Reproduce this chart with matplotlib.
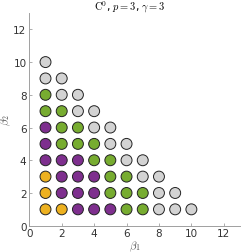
import matplotlib
matplotlib.use("Agg")
import matplotlib.pyplot as plt

plt.rcParams['mathtext.fontset'] = 'cm'

# data: (beta1, beta2) grid points with category labels per row (beta2 from 1 to 10)
rows = {
    10: ['g'],
    9: ['g', 'g'],
    8: ['G', 'g', 'g'],
    7: ['G', 'G', 'g', 'g'],
    6: ['P', 'G', 'G', 'g', 'g'],
    5: ['P', 'G', 'G', 'G', 'g', 'g'],
    4: ['P', 'P', 'P', 'G', 'G', 'g', 'g'],
    3: ['Y', 'P', 'P', 'P', 'G', 'G', 'g', 'g'],
    2: ['Y', 'P', 'P', 'P', 'G', 'G', 'G', 'g', 'g'],
    1: ['Y', 'Y', 'P', 'P', 'P', 'G', 'G', 'g', 'g', 'g'],
}
palette = {'Y': '#EDB120', 'P': '#7E2F8E', 'G': '#77AC30', 'g': '#D3D3D3'}

xs, ys, cs = [], [], []
for b2, cats in rows.items():
    for i, c in enumerate(cats):
        xs.append(i + 1)
        ys.append(b2)
        cs.append(palette[c])

fig = plt.figure(figsize=(2.41, 2.53), dpi=100)
ax = fig.add_axes([29.3/241, 26.3/253, (240-29.3)/241, (226.7-14)/253])
ax.scatter(xs, ys, s=62, c=cs, edgecolors='#222222', linewidths=0.7, zorder=3, clip_on=False)
ax.set_xlim(0, 13)
ax.set_ylim(0, 13)
ax.set_xticks([0, 2, 4, 6, 8, 10, 12])
ax.set_yticks([0, 2, 4, 6, 8, 10, 12])
for s in ['top', 'right']:
    ax.spines[s].set_visible(False)
for s in ['left', 'bottom']:
    ax.spines[s].set_color('#a0a0a0')
    ax.spines[s].set_linewidth(0.7)
ax.tick_params(direction='in', length=2.5, width=0.6, color='#a0a0a0', labelsize=7.5, labelcolor='#333333', pad=2)
ax.set_xlabel(r'$\beta_1$', fontsize=8, color='#555555', labelpad=0)
ax.set_ylabel(r'$\beta_2$', fontsize=8, color='#555555', labelpad=0)
fig.text(130/241, 1 - 7/253, r'$\mathrm{C}^0$, $p=3$, $\gamma=3$', fontsize=7.5, ha='center', va='center')
fig.savefig('out.png', dpi=100)
